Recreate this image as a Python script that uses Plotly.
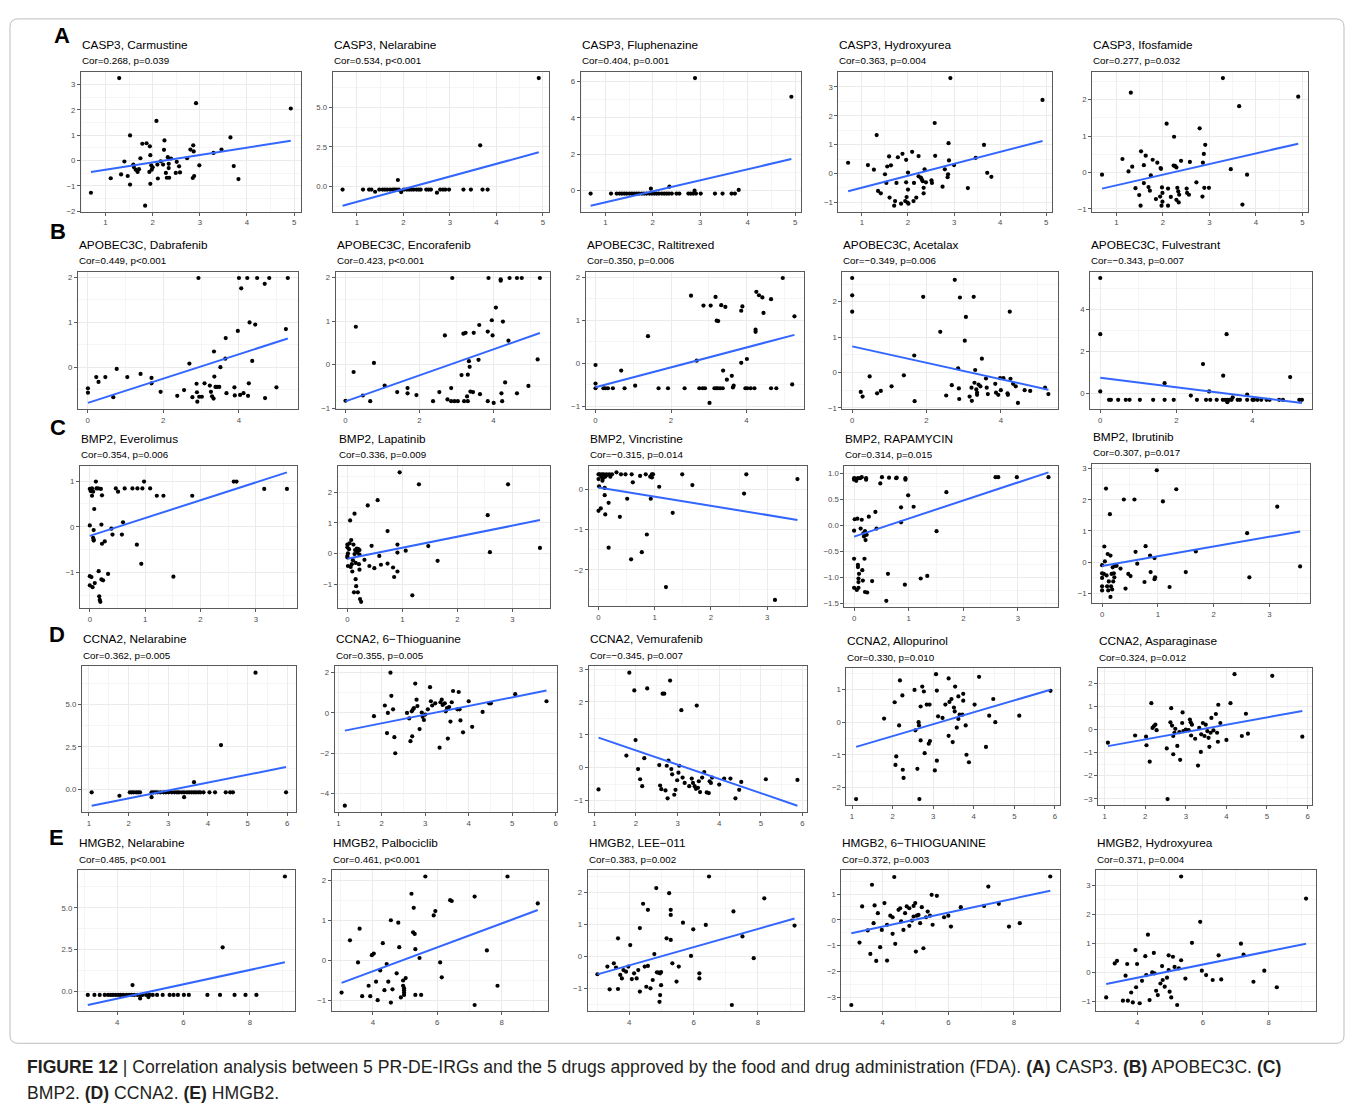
import numpy as np
import plotly.graph_objects as go

W, H = 1355, 1111

# ---------------- data: (gene expression, drug sensitivity) ----------------
casp3_carmustine = [(0.69,-1.27),(1.29,3.25),(1.11,-0.70),(1.33,-0.55),(1.40,-0.04),(1.47,-0.61),(1.52,-0.95),(1.52,0.99),
    (1.59,-0.16),(1.60,-0.26),(1.64,-0.36),(1.68,-0.45),(1.71,-0.34),(1.74,0.09),(1.78,0.66),(1.87,0.68),(1.84,-1.78),
    (1.93,-0.45),(1.94,0.56),(1.95,0.21),(1.95,-0.92),(1.97,-0.19),(1.98,-0.36),(2.00,-0.27),(2.08,1.56),(2.10,-0.16),
    (2.11,-0.71),(2.17,-0.03),(2.22,-0.16),(2.24,0.42),(2.25,0.79),(2.28,-0.49),(2.30,-0.68),(2.32,0.13),(2.34,-0.13),
    (2.34,-0.30),(2.35,-0.68),(2.39,0.08),(2.49,-0.49),(2.51,-0.05),(2.56,-0.23),(2.58,-0.47),(2.73,0.09),(2.80,0.43),
    (2.86,0.60),(2.87,0.36),(2.85,-0.69),(2.88,-0.61),(2.92,2.26),(2.99,-0.19),(3.29,0.30),(3.46,0.43),(3.65,0.91),
    (3.72,-0.22),(3.82,-0.73),(4.93,2.05)]
casp3_nelarabine = [(0.69,-0.19),(1.13,-0.19),(1.26,-0.19),(1.31,-0.19),(1.39,-0.33),(1.48,-0.19),(1.55,-0.19),(1.60,-0.19),
    (1.65,-0.19),(1.71,-0.19),(1.77,-0.19),(1.81,-0.19),(1.85,-0.19),(1.90,-0.19),(2.01,-0.19),(2.07,-0.19),(2.12,-0.19),
    (2.17,-0.19),(2.22,-0.19),(2.28,-0.19),(2.33,-0.19),(2.37,-0.19),(2.49,-0.19),(2.54,-0.19),(2.59,-0.19),(2.79,-0.19),
    (2.85,-0.19),(2.90,-0.19),(2.98,-0.19),(3.29,-0.19),(3.45,-0.19),(3.70,-0.19),(3.81,-0.19),(1.88,0.41),(1.95,-0.35),
    (2.72,-0.39),(3.65,2.60),(4.91,6.84)]
casp3_fluphenazine = [(0.69,-0.18),(1.12,-0.18),(1.24,-0.18),(1.30,-0.18),(1.35,-0.18),(1.40,-0.18),(1.45,-0.18),(1.51,-0.18),
    (1.56,-0.18),(1.61,-0.18),(1.66,-0.18),(1.71,-0.18),(1.77,-0.18),(1.82,-0.18),(1.87,-0.18),(1.93,-0.18),(1.98,-0.18),
    (2.03,-0.18),(2.08,-0.18),(2.13,-0.18),(2.19,-0.18),(2.24,-0.18),(2.29,-0.18),(2.34,-0.18),(2.40,-0.18),(2.50,-0.18),
    (2.56,-0.18),(2.75,-0.18),(2.80,-0.18),(2.85,-0.18),(2.91,-0.18),(3.01,-0.18),(3.31,-0.18),(3.47,-0.18),(3.66,-0.18),
    (3.73,-0.18),(1.96,0.09),(2.35,0.20),(2.88,-0.02),(3.81,0.02),(2.89,6.19),(4.92,5.16)]
casp3_hydroxyurea = [(0.70,0.37),(1.13,0.29),(1.26,0.13),(1.32,1.33),(1.35,-0.61),(1.41,-0.69),(1.50,-0.03),(1.53,-0.33),
    (1.55,0.24),(1.59,0.59),(1.60,-0.84),(1.63,0.28),(1.70,-1.12),(1.72,-0.96),(1.75,-0.33),(1.78,0.56),(1.85,-1.05),
    (1.88,0.68),(1.94,-0.96),(1.96,-0.31),(1.96,0.47),(1.97,-0.82),(1.99,-1.01),(2.00,-0.56),(2.00,0.03),(2.01,-1.05),
    (2.09,0.75),(2.12,-0.96),(2.13,-0.33),(2.18,-0.84),(2.23,0.60),(2.23,-0.10),(2.28,-0.15),(2.30,-0.21),(2.32,-0.27),
    (2.34,-0.69),(2.34,-0.50),(2.36,0.14),(2.39,-0.31),(2.51,-0.24),(2.52,-0.33),(2.58,1.75),(2.59,0.61),(2.75,-0.46),
    (2.80,0.14),(2.86,-0.13),(2.87,-0.03),(2.88,1.05),(2.89,0.45),(2.92,3.31),(3.00,0.29),(3.30,-0.51),(3.47,0.54),
    (3.65,0.99),(3.72,0.02),(3.81,-0.12),(4.92,2.55)]
casp3_ifosfamide = [(0.69,-0.06),(1.13,0.37),(1.26,0.03),(1.31,2.19),(1.34,0.16),(1.41,-0.43),(1.49,-0.62),(1.52,-0.91),
    (1.53,0.58),(1.59,0.20),(1.59,-0.29),(1.63,0.46),(1.69,-0.40),(1.72,-0.50),(1.74,-0.08),(1.78,0.35),(1.85,-0.73),
    (1.88,0.27),(1.94,-0.66),(1.95,0.12),(1.96,0.10),(1.97,-0.91),(1.98,-0.41),(1.99,-0.56),(1.99,-0.80),(2.08,1.34),
    (2.11,-0.44),(2.11,-0.91),(2.17,-0.67),(2.23,0.19),(2.24,0.98),(2.26,0.18),(2.29,0.14),(2.29,-0.75),(2.31,-0.42),
    (2.33,-0.52),(2.34,-0.82),(2.35,-0.61),(2.39,0.32),(2.51,-0.44),(2.52,-0.56),(2.56,-0.61),(2.58,0.29),(2.72,-0.27),
    (2.79,1.21),(2.85,-0.66),(2.86,0.27),(2.88,0.51),(2.89,-0.42),(2.91,0.76),(2.99,-0.42),(3.29,2.59),(3.46,0.09),
    (3.64,1.82),(3.71,-0.88),(3.81,-0.06),(4.91,2.08)]

apobec3c_dabrafenib = [(0.01,-0.47),(0.01,-0.57),(0.23,-0.22),(0.29,-0.33),(0.47,-0.22),(0.68,-0.67),(0.77,-0.04),(1.05,-0.22),
    (1.40,-0.15),(1.69,-0.24),(1.69,-0.36),(1.93,-0.55),(2.37,-0.64),(2.55,-0.51),(2.69,0.08),(2.77,-0.67),(2.88,-0.37),
    (2.89,-0.56),(2.90,-0.77),(2.95,-0.66),(3.02,-0.66),(3.09,-0.36),(3.23,-0.41),(3.26,-0.55),(3.29,-0.65),(3.33,-0.70),
    (3.34,0.35),(3.35,-0.21),(3.38,-0.44),(3.42,-0.44),(3.48,-0.44),(3.51,0.00),(3.64,0.19),(3.65,0.65),(3.67,-0.58),
    (3.88,-0.45),(3.89,-0.63),(3.97,0.81),(4.00,1.99),(4.03,-0.62),(4.06,1.76),(4.12,-0.58),(4.22,1.99),(4.24,-0.64),
    (4.26,-0.36),(4.28,1.00),(4.35,0.14),(4.43,0.95),(4.48,1.99),(4.68,1.86),(4.69,-0.69),(4.80,1.99),(4.99,-0.45),
    (5.24,0.85),(5.29,1.99),(2.93,1.99)]
apobec3c_encorafenib = [(0.00,-0.83),(0.22,-0.17),(0.28,0.87),(0.47,-0.71),(0.67,-0.84),(0.77,0.04),(1.06,-0.48),(1.40,-0.63),
    (1.68,-0.54),(1.68,-0.66),(1.92,-0.70),(2.37,-0.84),(2.54,-0.63),(2.69,0.67),(2.76,-0.80),(2.86,-0.54),(2.89,1.99),
    (2.86,-0.84),(2.95,-0.84),(3.04,-0.84),(3.14,-0.24),(3.19,0.71),(3.21,-0.84),(3.25,0.73),(3.29,-0.73),(3.31,-0.23),
    (3.34,0.08),(3.36,-0.05),(3.31,-0.84),(3.38,-0.62),(3.45,-0.63),(3.47,0.73),(3.60,0.11),(3.62,0.91),(3.64,-0.68),
    (3.85,0.76),(3.85,-0.84),(3.87,1.99),(3.96,1.02),(3.98,0.67),(4.01,-0.88),(4.07,1.31),(4.20,1.96),(4.20,1.93),
    (4.22,-0.66),(4.24,-0.84),(4.26,0.99),(4.32,-0.41),(4.41,0.55),(4.44,1.99),(4.64,1.99),(4.64,-0.66),(4.77,1.99),
    (4.95,-0.49),(5.20,0.12),(5.26,1.99)]
apobec3c_raltitrexed = [(0.00,-0.04),(0.00,-0.47),(0.00,-0.58),(0.21,-0.58),(0.26,-0.58),(0.33,-0.58),(0.46,-0.58),(0.68,-0.17),
    (0.77,-0.58),(1.05,-0.52),(1.39,0.63),(1.67,-0.58),(1.92,-0.58),(2.36,-0.58),(2.53,1.57),(2.68,0.06),(2.75,-0.58),
    (2.84,-0.58),(2.90,-0.58),(2.86,1.34),(3.05,1.34),(3.02,-0.92),(3.15,-0.58),(3.20,-0.58),(3.24,-0.58),(3.30,-0.58),
    (3.37,-0.58),(3.18,1.54),(3.21,0.99),(3.25,0.98),(3.33,1.35),(3.38,-0.17),(3.44,1.31),(3.48,-0.38),(3.61,-0.29),
    (3.64,-0.56),(3.66,-0.52),(3.86,0.01),(3.86,1.22),(3.89,1.32),(3.97,-0.58),(4.02,-0.58),(4.11,-0.58),(4.01,0.10),
    (4.21,-0.58),(4.24,0.78),(4.24,0.73),(4.26,1.66),(4.33,1.58),(4.42,1.53),(4.45,1.17),(4.65,1.49),(4.65,-0.58),
    (4.79,-0.58),(4.96,1.98),(5.21,-0.49),(5.27,1.09)]
apobec3c_acetalax = [(0.00,2.67),(0.00,2.18),(0.00,1.72),(0.23,-0.55),(0.28,-0.68),(0.47,-0.11),(0.67,-0.59),(0.77,-0.52),
    (1.06,-0.39),(1.39,-0.08),(1.67,0.48),(1.68,-0.81),(1.91,2.14),(2.37,1.15),(2.53,-0.65),(2.68,-0.36),(2.76,2.62),
    (2.85,0.12),(2.87,-0.45),(2.88,-0.75),(2.90,2.12),(3.03,0.90),(3.06,1.57),(3.16,-0.68),(3.21,-0.43),(3.22,-0.80),
    (3.27,2.14),(3.29,-0.29),(3.31,0.07),(3.34,-0.48),(3.36,-0.57),(3.36,-0.63),(3.40,-0.34),(3.45,-0.39),(3.49,0.39),
    (3.60,-0.17),(3.62,-0.43),(3.65,-0.61),(3.85,-0.32),(3.87,-0.57),(3.93,-0.63),(3.98,-0.16),(4.00,-0.50),(4.07,-0.16),
    (4.18,-0.59),(4.19,-0.63),(4.24,1.72),(4.26,-0.18),(4.33,-0.32),(4.40,-0.39),(4.46,-0.86),(4.64,-0.50),(4.79,-0.52),
    (5.19,-0.43),(5.28,-0.61)]
apobec3c_fulvestrant = [(0.00,5.48),(0.00,2.81),(0.00,0.09),(0.23,-0.31),(0.28,-0.31),(0.47,-0.31),(0.67,-0.31),(0.77,-0.31),
    (1.04,-0.31),(1.39,-0.31),(1.69,-0.31),(1.93,-0.31),(2.54,-0.31),(2.78,-0.31),(2.89,-0.31),(3.06,-0.31),(3.22,-0.31),
    (3.28,-0.31),(3.34,-0.31),(3.39,-0.31),(3.45,-0.31),(3.61,-0.31),(3.67,-0.31),(3.86,-0.31),(4.00,-0.31),(4.04,-0.31),
    (4.13,-0.31),(4.23,-0.31),(4.37,-0.31),(4.45,-0.31),(4.70,-0.31),(4.80,-0.31),(5.23,-0.31),(5.30,-0.31),(2.38,-0.11),
    (1.69,0.48),(2.70,1.39),(2.86,0.09),(3.23,0.84),(3.32,2.81),(3.34,-0.42),(3.48,-0.19),(3.86,-0.06),(4.99,0.77)]

bmp2_everolimus = [(0.00,0.03),(0.00,0.83),(0.00,-1.08),(0.00,-1.28),(0.02,0.78),(0.03,-1.10),(0.04,0.84),(0.04,0.68),
    (0.05,-1.32),(0.06,0.77),(0.06,-0.24),(0.07,-0.28),(0.07,-0.30),(0.07,-0.07),(0.08,0.39),(0.09,-1.23),(0.11,0.99),
    (0.12,0.84),(0.15,0.84),(0.16,-0.97),(0.17,-1.52),(0.18,-1.60),(0.19,-1.64),(0.20,0.83),(0.21,-1.15),(0.22,0.69),
    (0.21,0.05),(0.22,-0.37),(0.24,-1.17),(0.27,-0.32),(0.33,-1.03),(0.39,-0.04),(0.41,-0.17),(0.47,0.84),(0.51,0.77),
    (0.58,-0.17),(0.60,0.10),(0.63,0.84),(0.77,0.84),(0.85,-0.39),(0.86,0.84),(0.93,-0.81),(0.95,0.84),(0.98,0.99),
    (1.09,0.84),(1.21,0.68),(1.33,0.68),(1.51,-1.09),(1.85,0.68),(2.60,0.99),(2.65,0.99),(3.15,0.83),(3.56,0.83)]
bmp2_lapatinib = [(0.00,0.29),(0.00,0.20),(0.00,-0.08),(0.00,-0.13),(0.01,-0.41),(0.01,0.00),(0.03,0.14),(0.04,0.33),
    (0.05,1.08),(0.06,-0.44),(0.07,0.44),(0.08,-0.35),(0.09,-0.59),(0.10,-0.22),(0.11,0.29),(0.12,-1.27),(0.13,1.30),
    (0.13,-0.02),(0.14,0.11),(0.15,-0.84),(0.15,-0.31),(0.16,-1.07),(0.17,0.16),(0.18,0.03),(0.19,-1.27),(0.20,0.14),
    (0.21,-0.35),(0.22,0.11),(0.22,-0.04),(0.23,-1.49),(0.25,-1.58),(0.22,-0.53),(0.31,-0.21),(0.37,1.57),(0.40,-0.41),
    (0.44,0.25),(0.49,-0.48),(0.55,1.74),(0.58,-0.08),(0.61,-0.37),(0.73,0.73),(0.73,-0.33),(0.83,-0.46),(0.85,-0.77),
    (0.91,-0.59),(0.91,0.29),(0.91,0.03),(0.95,2.65),(1.06,0.09),(1.18,-1.37),(1.30,2.26),(1.47,0.24),(1.64,-0.24),
    (2.55,1.25),(2.59,0.04),(2.92,2.26),(3.50,0.18)]
bmp2_vincristine = [(0.00,0.38),(0.00,0.26),(0.00,-0.53),(0.01,0.08),(0.02,0.38),(0.04,-0.47),(0.05,0.32),(0.06,0.38),
    (0.07,0.22),(0.08,0.28),(0.09,0.38),(0.11,0.04),(0.12,0.32),(0.11,-0.14),(0.14,0.38),(0.12,-0.62),(0.15,0.36),
    (0.18,-0.33),(0.18,-1.45),(0.19,0.38),(0.21,0.32),(0.24,0.38),(0.32,0.43),(0.38,-0.68),(0.40,0.38),(0.48,0.38),
    (0.51,-0.23),(0.58,-1.74),(0.59,0.38),(0.61,0.18),(0.74,0.34),(0.77,-1.56),(0.84,0.38),(0.86,-1.12),(0.92,0.32),
    (0.93,-0.23),(0.95,0.38),(0.95,0.30),(0.97,0.38),(1.08,0.07),(1.20,-2.43),(1.32,-0.58),(1.49,0.38),(1.67,0.11),
    (2.59,-0.10),(2.63,0.38),(3.14,-2.75),(3.54,0.26)]
bmp2_rapamycin = [(0.00,0.91),(0.00,0.88),(0.00,-0.10),(0.00,-0.64),(0.00,-1.20),(0.01,0.12),(0.02,0.90),(0.04,0.86),
    (0.05,-1.24),(0.06,0.13),(0.07,0.91),(0.07,-0.76),(0.07,-0.80),(0.08,-1.02),(0.08,-1.09),(0.08,-1.20),(0.09,-0.93),
    (0.11,0.91),(0.12,-0.06),(0.14,0.11),(0.14,0.93),(0.15,-0.86),(0.16,-1.06),(0.17,-0.15),(0.18,-0.21),(0.19,-0.64),
    (0.20,-0.11),(0.21,-0.28),(0.20,-1.28),(0.22,0.91),(0.22,0.88),(0.23,-0.18),(0.24,-1.29),(0.27,0.17),(0.33,-1.07),
    (0.39,0.26),(0.41,-0.06),(0.48,0.81),(0.51,0.93),(0.59,-1.45),(0.62,-0.93),(0.64,0.92),(0.77,0.91),(0.78,0.92),
    (0.86,0.35),(0.86,0.06),(0.94,0.91),(0.94,0.88),(0.93,-1.14),(0.99,0.58),(1.09,0.36),(1.22,-1.02),(1.34,-0.97),
    (1.51,-0.11),(1.69,0.64),(2.59,0.93),(2.64,0.93),(2.98,0.93),(3.56,0.93)]
bmp2_ibrutinib = [(0.00,-0.10),(0.00,-0.36),(0.00,-0.51),(0.00,-0.78),(0.00,-0.91),(0.03,-0.38),(0.04,0.50),(0.05,0.02),
    (0.07,2.36),(0.08,-0.43),(0.09,-0.78),(0.10,0.26),(0.11,-0.91),(0.12,-0.62),(0.14,1.54),(0.15,0.21),(0.15,-1.12),
    (0.16,-0.78),(0.17,-0.38),(0.18,-0.88),(0.19,-0.17),(0.20,-0.62),(0.21,-0.36),(0.22,-0.49),(0.23,-0.12),(0.26,-0.12),
    (0.33,-0.21),(0.39,2.01),(0.42,-0.85),(0.47,-0.38),(0.51,-0.45),(0.58,2.01),(0.60,0.33),(0.63,-0.05),(0.76,-0.64),
    (0.78,0.51),(0.86,0.21),(0.87,-0.32),(0.94,-0.55),(0.95,-0.49),(0.94,0.13),(0.98,2.95),(1.09,1.95),(1.21,-0.80),
    (1.33,2.34),(1.50,-0.32),(1.68,0.34),(2.60,0.93),(2.64,-0.49),(3.14,1.78),(3.55,-0.14)]

ccna2_nelarabine = [(1.07,-0.18),(1.77,-0.38),(2.03,-0.18),(2.08,-0.18),(2.13,-0.18),(2.19,-0.18),(2.24,-0.18),(2.29,-0.18),
    (2.58,-0.18),(2.63,-0.18),(2.68,-0.18),(2.73,-0.18),(2.80,-0.18),(2.88,-0.18),(2.94,-0.18),(3.01,-0.18),(3.09,-0.18),
    (3.16,-0.18),(3.22,-0.18),(3.27,-0.18),(3.34,-0.18),(3.40,-0.18),(3.47,-0.18),(3.53,-0.18),(3.59,-0.18),(3.65,-0.18),
    (3.70,-0.18),(3.76,-0.18),(3.81,-0.18),(3.89,-0.18),(4.04,-0.18),(4.18,-0.18),(4.45,-0.18),(4.56,-0.18),(4.63,-0.18),
    (5.97,-0.18),(2.58,-0.46),(3.40,-0.46),(3.65,0.42),(4.33,2.60),(5.20,6.86)]
ccna2_thioguanine = [(1.15,-4.60),(1.82,-0.16),(2.07,0.37),(2.12,-1.00),(2.14,0.00),(2.20,2.00),(2.22,0.85),(2.26,0.18),
    (2.29,-1.20),(2.31,-2.00),(2.58,0.00),(2.63,-0.27),(2.66,-1.40),(2.69,0.08),(2.70,-1.16),(2.72,0.18),(2.74,0.24),
    (2.77,1.46),(2.80,0.66),(2.82,0.34),(2.87,-0.80),(2.92,0.02),(2.94,-0.19),(2.97,-0.35),(3.00,-0.08),(3.06,0.18),
    (3.11,1.28),(3.13,0.58),(3.16,0.37),(3.23,0.48),(3.33,-1.72),(3.35,0.53),(3.38,0.66),(3.40,0.40),(3.45,0.48),
    (3.47,0.08),(3.50,0.24),(3.52,-1.27),(3.55,0.29),(3.58,-0.43),(3.61,0.53),(3.64,1.09),(3.74,0.18),(3.77,1.04),
    (3.79,0.18),(3.81,-0.37),(3.87,-0.96),(4.00,0.58),(4.08,-0.69),(4.32,0.05),(4.47,0.48),(4.51,0.48),(5.07,0.93),
    (5.79,0.58)]
ccna2_vemurafenib = [(1.10,-0.66),(1.77,0.37),(1.84,2.89),(1.96,2.35),(1.99,0.84),(2.05,-0.04),(2.10,-0.35),(2.15,-0.56),
    (2.20,0.29),(2.27,2.41),(2.56,0.08),(2.58,-0.54),(2.61,-0.65),(2.64,2.25),(2.68,2.25),(2.71,-0.69),(2.74,0.06),
    (2.76,-0.93),(2.78,0.22),(2.82,2.65),(2.85,-0.04),(2.87,-0.20),(2.92,-0.82),(2.95,-0.67),(2.99,-0.38),(3.02,-0.15),
    (3.04,0.06),(3.09,1.75),(3.12,-0.30),(3.17,-0.46),(3.28,-0.56),(3.34,-0.33),(3.37,-0.46),(3.41,-0.56),(3.44,-0.64),
    (3.46,1.89),(3.49,-0.61),(3.51,-0.41),(3.54,-0.74),(3.59,-0.30),(3.64,-0.13),(3.70,-0.75),(3.75,-0.77),(3.77,-0.41),
    (3.80,-0.46),(3.83,-0.30),(4.00,-0.51),(4.12,-0.33),(4.27,-0.33),(4.39,-0.93),(4.48,-0.67),(4.53,-0.43),(5.12,-0.35),
    (5.88,-0.37)]
ccna2_allopurinol = [(1.10,-2.36),(1.79,0.11),(2.05,0.61),(2.09,-1.05),(2.07,-1.31),(2.16,-0.10),(2.18,1.28),(2.24,0.82),
    (2.25,-1.46),(2.27,-1.71),(2.54,0.99),(2.56,-0.25),(2.61,-1.43),(2.64,0.00),(2.65,-0.10),(2.66,-2.36),(2.69,-0.56),
    (2.69,0.48),(2.73,1.09),(2.77,0.94),(2.79,-0.95),(2.84,0.54),(2.89,-0.66),(2.91,0.54),(2.92,-0.58),(3.04,-1.48),
    (3.07,1.47),(3.09,0.97),(3.09,-1.18),(3.12,0.18),(3.23,0.13),(3.30,0.54),(3.38,-0.42),(3.38,1.34),(3.40,0.62),
    (3.45,0.71),(3.48,-0.61),(3.51,0.45),(3.53,0.33),(3.54,1.09),(3.58,-0.17),(3.62,0.79),(3.62,0.10),(3.65,0.23),
    (3.72,0.23),(3.74,0.87),(3.74,0.66),(3.80,-0.10),(3.82,-1.00),(3.88,-1.23),(4.02,0.54),(4.13,1.39),(4.30,-0.76),
    (4.38,0.20),(4.48,0.71),(4.53,0.00),(5.12,0.20),(5.89,0.96)]
ccna2_asparaginase = [(1.08,-0.57),(1.75,-0.26),(2.02,-0.31),(2.03,-0.68),(2.11,-1.39),(2.15,1.14),(2.18,0.07),(2.21,0.14),
    (2.25,0.21),(2.28,-0.03),(2.53,-0.82),(2.55,-3.01),(2.62,0.31),(2.64,0.92),(2.66,0.17),(2.69,-0.28),(2.69,-1.07),
    (2.72,-0.14),(2.74,0.03),(2.79,-0.71),(2.84,-0.11),(2.86,-1.31),(2.91,0.28),(2.92,0.74),(2.94,-0.07),(3.00,0.00),
    (3.07,-0.03),(3.10,0.43),(3.12,0.31),(3.13,-0.26),(3.15,0.21),(3.23,-0.40),(3.30,-1.56),(3.33,0.07),(3.37,-0.97),
    (3.38,-0.21),(3.42,0.28),(3.46,-0.28),(3.49,0.21),(3.53,-0.07),(3.56,-0.36),(3.58,-0.75),(3.61,-0.14),(3.63,0.50),
    (3.68,-0.04),(3.74,0.67),(3.77,-0.14),(3.79,-0.53),(3.80,1.07),(3.85,0.28),(4.00,-0.45),(4.10,1.14),(4.20,2.39),
    (4.38,-0.28),(4.48,0.68),(4.53,-0.18),(5.13,2.32),(5.87,-0.31)]

hmgb2_nelarabine = [(3.11,-0.20),(3.31,-0.20),(3.47,-0.20),(3.62,-0.20),(3.72,-0.20),(3.80,-0.20),(3.87,-0.20),(3.95,-0.20),
    (4.03,-0.20),(4.10,-0.20),(4.18,-0.20),(4.28,-0.20),(4.36,-0.20),(4.43,-0.20),(4.51,-0.20),(4.61,-0.20),(4.69,-0.20),
    (4.76,-0.20),(4.87,-0.20),(4.97,-0.20),(5.07,-0.20),(5.20,-0.20),(5.37,-0.20),(5.58,-0.20),(5.70,-0.20),(5.83,-0.20),
    (6.01,-0.20),(6.16,-0.20),(6.72,-0.20),(7.10,-0.20),(7.54,-0.20),(7.87,-0.20),(8.20,-0.20),(4.46,0.39),(4.69,-0.41),
    (4.94,-0.33),(7.18,2.64),(9.06,6.87)]
hmgb2_palbociclib = [(3.03,-0.80),(3.29,0.50),(3.54,-0.05),(3.59,0.79),(3.67,-0.89),(3.87,-0.63),(3.92,-0.89),(3.97,0.13),
    (4.03,0.17),(4.10,-0.53),(4.15,-0.99),(4.23,-0.25),(4.31,0.43),(4.36,-0.74),(4.43,-0.09),(4.48,-0.53),(4.56,1.00),
    (4.56,-1.05),(4.61,-0.72),(4.74,-0.32),(4.79,0.94),(4.82,0.33),(4.87,-0.92),(4.94,-0.63),(4.94,-0.50),(4.97,-0.74),
    (4.97,-0.80),(4.97,-0.69),(4.97,-0.86),(5.02,-0.44),(5.20,1.66),(5.25,0.70),(5.30,0.66),(5.32,-0.86),(5.32,0.28),
    (5.27,1.31),(5.45,0.06),(5.50,-0.86),(5.63,2.09),(5.89,1.12),(5.94,1.23),(6.09,-0.05),(6.14,-0.42),(6.40,1.50),
    (6.45,1.48),(7.16,1.59),(7.16,-1.11),(7.54,0.25),(7.87,-0.63),(8.18,2.09),(9.12,1.42)]
hmgb2_lee011 = [(3.01,-0.55),(3.32,-0.31),(3.39,-1.02),(3.52,-0.21),(3.59,-0.34),(3.65,0.57),(3.65,-1.01),(3.72,-0.57),
    (3.77,-0.68),(3.82,-0.42),(3.90,-0.47),(3.97,-0.31),(4.03,0.36),(4.08,-0.70),(4.15,-0.52),(4.23,-0.68),(4.28,-0.42),
    (4.33,0.89),(4.33,-1.09),(4.43,1.65),(4.48,-0.31),(4.53,-0.94),(4.58,1.46),(4.58,-0.29),(4.66,-0.99),(4.73,-0.73),
    (4.78,0.08),(4.84,2.14),(4.86,-0.49),(4.91,-0.50),(4.96,-0.52),(4.99,-0.48),(4.94,-1.41),(4.96,-1.20),(4.99,-0.89),
    (5.16,0.57),(5.29,0.52),(5.24,1.98),(5.29,1.46),(5.29,1.30),(5.34,-0.21),(5.47,-0.78),(5.54,-0.31),(5.67,1.06),
    (5.92,0.02),(5.99,0.85),(6.18,-0.52),(6.18,-0.68),(6.38,0.99),(6.48,2.50),(7.24,1.41),(7.19,-1.51),(7.52,0.63),
    (7.87,-0.05),(8.20,1.82),(9.14,0.97)]
hmgb2_6thioguanine = [(3.04,-3.30),(3.29,-0.88),(3.37,0.52),(3.54,-0.41),(3.62,-1.32),(3.67,1.36),(3.72,-0.13),(3.75,0.56),
    (3.80,-1.59),(3.85,0.26),(3.92,-1.06),(3.97,-0.39),(4.05,0.65),(4.13,-0.19),(4.13,-1.58),(4.23,0.16),(4.30,-0.54),
    (4.30,0.10),(4.35,1.66),(4.38,-0.93),(4.48,0.39),(4.53,0.45),(4.56,-0.06),(4.63,-0.39),(4.68,0.26),(4.73,0.52),
    (4.81,0.45),(4.81,-0.23),(4.89,-0.03),(4.94,0.54),(4.94,0.13),(4.99,0.65),(5.01,-1.23),(5.04,0.16),(5.09,0.19),
    (5.14,-0.13),(5.19,0.49),(5.24,-1.10),(5.32,0.10),(5.37,0.32),(5.44,0.16),(5.52,-0.19),(5.49,0.97),(5.65,0.93),
    (5.87,0.10),(6.00,0.16),(6.08,-0.26),(6.38,0.49),(7.09,0.54),(7.22,1.29),(7.54,0.62),(7.85,-0.26),(8.18,-0.13),
    (9.11,1.68)]
hmgb2_hydroxyurea = [(3.06,-0.86),(3.32,0.31),(3.39,0.40),(3.57,-0.97),(3.65,-0.11),(3.70,0.29),(3.72,-0.97),(3.82,-0.69),
    (3.87,-1.03),(3.95,0.77),(3.97,-0.51),(4.00,0.29),(4.08,-1.06),(4.15,-0.29),(4.25,0.56),(4.28,-0.09),(4.33,1.30),
    (4.38,-0.95),(4.46,0.00),(4.51,0.67),(4.53,-0.03),(4.58,-0.63),(4.63,-0.78),(4.71,-0.38),(4.76,0.22),(4.78,-0.26),
    (4.84,-0.49),(4.91,-0.18),(4.96,0.59),(4.96,0.08),(4.99,-0.66),(5.04,-0.86),(5.09,0.54),(5.14,0.19),(5.22,-1.12),
    (5.27,0.14),(5.34,0.42),(5.34,3.30),(5.47,-0.21),(5.67,1.02),(5.92,1.74),(5.97,0.06),(6.10,-0.09),(6.30,-0.26),
    (6.48,0.59),(6.56,-0.24),(7.16,0.99),(7.24,0.61),(7.54,-0.32),(7.87,0.06),(8.25,-0.51),(9.14,2.54)]

titles = ["CASP3, Carmustine", "CASP3, Nelarabine", "CASP3, Fluphenazine", "CASP3, Hydroxyurea", "CASP3, Ifosfamide",
          "APOBEC3C, Dabrafenib", "APOBEC3C, Encorafenib", "APOBEC3C, Raltitrexed", "APOBEC3C, Acetalax", "APOBEC3C, Fulvestrant",
          "BMP2, Everolimus", "BMP2, Lapatinib", "BMP2, Vincristine", "BMP2, RAPAMYCIN", "BMP2, Ibrutinib",
          "CCNA2, Nelarabine", "CCNA2, 6\u2212Thioguanine", "CCNA2, Vemurafenib", "CCNA2, Allopurinol", "CCNA2, Asparaginase",
          "HMGB2, Nelarabine", "HMGB2, Palbociclib", "HMGB2, LEE\u2212011", "HMGB2, 6\u2212THIOGUANINE", "HMGB2, Hydroxyurea"]
cor_labels = ["Cor=0.268, p=0.039", "Cor=0.534, p&lt;0.001", "Cor=0.404, p=0.001", "Cor=0.363, p=0.004", "Cor=0.277, p=0.032",
              "Cor=0.449, p&lt;0.001", "Cor=0.423, p&lt;0.001", "Cor=0.350, p=0.006", "Cor=\u22120.349, p=0.006", "Cor=\u22120.343, p=0.007",
              "Cor=0.354, p=0.006", "Cor=0.336, p=0.009", "Cor=\u22120.315, p=0.014", "Cor=0.314, p=0.015", "Cor=0.307, p=0.017",
              "Cor=0.362, p=0.005", "Cor=0.355, p=0.005", "Cor=\u22120.345, p=0.007", "Cor=0.330, p=0.010", "Cor=0.324, p=0.012",
              "Cor=0.485, p&lt;0.001", "Cor=0.461, p&lt;0.001", "Cor=0.383, p=0.002", "Cor=0.372, p=0.003", "Cor=0.371, p=0.004"]
datasets = [casp3_carmustine, casp3_nelarabine, casp3_fluphenazine, casp3_hydroxyurea, casp3_ifosfamide,
            apobec3c_dabrafenib, apobec3c_encorafenib, apobec3c_raltitrexed, apobec3c_acetalax, apobec3c_fulvestrant,
            bmp2_everolimus, bmp2_lapatinib, bmp2_vincristine, bmp2_rapamycin, bmp2_ibrutinib,
            ccna2_nelarabine, ccna2_thioguanine, ccna2_vemurafenib, ccna2_allopurinol, ccna2_asparaginase,
            hmgb2_nelarabine, hmgb2_palbociclib, hmgb2_lee011, hmgb2_6thioguanine, hmgb2_hydroxyurea]
panel_letters = ["A", "B", "C", "D", "E"]

# ---------------- tick spacing per panel (x step, y step, y label format) ----------------
tick_steps = [(1, 1, ""), (1, 2.5, ".1f"), (1, 2, ""), (1, 1, ""), (1, 1, ""),
              (2, 1, ""), (2, 1, ""), (2, 1, ""), (2, 1, ""), (2, 2, ""),
              (1, 1, ""), (1, 1, ""), (1, 1, ""), (1, 0.5, ".1f"), (1, 1, ""),
              (1, 2.5, ".1f"), (1, 2, ""), (1, 1, ""), (1, 1, ""), (1, 1, ""),
              (2, 2.5, ".1f"), (2, 1, ""), (2, 1, ""), (2, 1, ""), (2, 1, "")]

# ---------------- layout geometry in pixels ----------------
row_boxes_x = [[(81, 301), (333, 549), (581, 802), (839, 1053), (1093, 1309)],
               [(78, 298), (336, 550), (586, 805), (843, 1059), (1091, 1313)],
               [(80, 297), (338, 550), (589, 808), (845, 1059), (1093, 1311)],
               [(82, 296), (335, 557), (589, 808), (847, 1061), (1099, 1313)],
               [(78, 295), (332, 548), (588, 805), (842, 1061), (1097, 1317)]]
row_boxes_y = [[(71, 212)] * 5,
               [(272, 410)] * 5,
               [(467, 610), (467, 610), (467, 608), (467, 609), (465, 605)],
               [(668, 815), (668, 815), (668, 815), (670, 808), (670, 808)],
               [(873, 1015)] * 5]
letter_pos = [(62, 35), (58, 232), (58, 428), (57, 636), (57, 840)]

FONT = "Liberation Sans, Arial, Helvetica, sans-serif"
fig = go.Figure()
annotations = []
layout_axes = {}


def px_x(p):
    return p / W


def px_y(p):
    return 1 - p / H


def padded(lo, hi, f=0.05):
    span = hi - lo
    return [lo - f * span, hi + f * span]


for i, pts in enumerate(datasets):
    r, c = divmod(i, 5)
    xs = np.array([p[0] for p in pts])
    ys = np.array([p[1] for p in pts])
    slope, icpt = np.polyfit(xs, ys, 1)
    lx = np.array([xs.min(), xs.max()])
    ly = slope * lx + icpt
    n = "" if i == 0 else str(i + 1)
    xa, ya = "x" + n, "y" + n
    fig.add_trace(go.Scatter(x=xs, y=ys, mode="markers", xaxis=xa, yaxis=ya,
                             marker=dict(color="black", size=4.2), showlegend=False, hoverinfo="x+y"))
    fig.add_trace(go.Scatter(x=lx, y=ly, mode="lines", xaxis=xa, yaxis=ya,
                             line=dict(color="#3366FF", width=2), showlegend=False, hoverinfo="skip"))
    (l, rr) = row_boxes_x[r][c]
    (t, b) = row_boxes_y[r][c]
    xstep, ystep, yfmt = tick_steps[i]
    yall = np.concatenate([ys, ly])
    common = dict(showgrid=True, gridcolor="#EBEBEB", gridwidth=1, zeroline=False,
                  showline=True, mirror=True, linecolor="#5A5A5A", linewidth=1,
                  ticks="outside", ticklen=3, tickwidth=1, tickcolor="#5A5A5A",
                  tickfont=dict(size=7.8, color="#4D4D4D", family=FONT), fixedrange=True, tick0=0)
    layout_axes["xaxis" + n] = dict(common, domain=[px_x(l), px_x(rr)], anchor=ya,
                                    range=padded(xs.min(), xs.max()), dtick=xstep,
                                    minor=dict(dtick=xstep / 2, tick0=0, showgrid=True, gridcolor="#F5F5F5", gridwidth=0.6))
    layout_axes["yaxis" + n] = dict(common, domain=[px_y(b), px_y(t)], anchor=xa,
                                    range=padded(yall.min(), yall.max()), dtick=ystep, tickformat=yfmt,
                                    minor=dict(dtick=ystep / 2, tick0=0, showgrid=True, gridcolor="#F5F5F5", gridwidth=0.6))
    annotations.append(dict(text=titles[i], x=px_x(l - 1), y=px_y(t - 27), xref="paper", yref="paper",
                            xanchor="left", yanchor="middle", showarrow=False,
                            font=dict(size=11.8, color="black", family=FONT)))
    annotations.append(dict(text=cor_labels[i], x=px_x(l - 1), y=px_y(t - 11), xref="paper", yref="paper",
                            xanchor="left", yanchor="middle", showarrow=False,
                            font=dict(size=9.8, color="black", family=FONT)))

for k, letter in enumerate(panel_letters):
    lx_, ly_ = letter_pos[k]
    annotations.append(dict(text="<b>" + letter + "</b>", x=px_x(lx_), y=px_y(ly_), xref="paper", yref="paper",
                            xanchor="center", yanchor="middle", showarrow=False,
                            font=dict(size=22, color="black", family=FONT)))

caption_line1 = ("<b>FIGURE 12</b> | Correlation analysis between 5 PR-DE-IRGs and the 5 drugs approved by the food and drug "
                 "administration (FDA). <b>(A)</b> CASP3. <b>(B)</b> APOBEC3C. <b>(C)</b>")
caption_line2 = "BMP2. <b>(D)</b> CCNA2. <b>(E)</b> HMGB2."
annotations.append(dict(text=caption_line1, x=px_x(25), y=px_y(1071), xref="paper", yref="paper",
                        xanchor="left", yanchor="middle", showarrow=False,
                        font=dict(size=17.6, color="#231F20", family=FONT)))
annotations.append(dict(text=caption_line2, x=px_x(25), y=px_y(1097), xref="paper", yref="paper",
                        xanchor="left", yanchor="middle", showarrow=False,
                        font=dict(size=17.6, color="#231F20", family=FONT)))

# rounded frame around the figure panel
x0, y0, x1, y1, rad = px_x(10), px_y(18), px_x(1345), px_y(1047), 8
rx, ry = rad / W, rad / H
frame = (f"M {x0+rx},{y0} L {x1-rx},{y0} Q {x1},{y0} {x1},{y0-ry} L {x1},{y1+ry} Q {x1},{y1} {x1-rx},{y1} "
         f"L {x0+rx},{y1} Q {x0},{y1} {x0},{y1+ry} L {x0},{y0-ry} Q {x0},{y0} {x0+rx},{y0} Z")

fig.update_layout(width=W, height=H, margin=dict(l=0, r=0, t=0, b=0), autosize=False,
                  paper_bgcolor="white", plot_bgcolor="white", showlegend=False,
                  font=dict(family=FONT), annotations=annotations,
                  shapes=[dict(type="path", path=frame, xref="paper", yref="paper",
                               line=dict(color="#BDBDBD", width=1), fillcolor="rgba(0,0,0,0)", layer="below")],
                  **layout_axes)

fig.write_html("out.html", config={"displayModeBar": False},
               post_script="document.body.style.margin='0';document.body.style.overflow='hidden';")
